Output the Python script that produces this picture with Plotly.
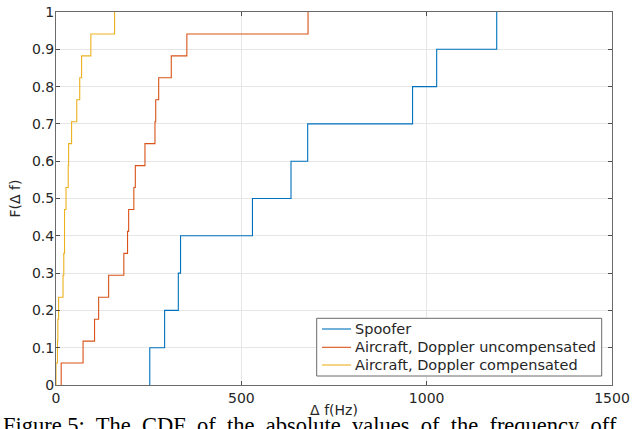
import numpy as np
import plotly.graph_objects as go

# Sample values (Hz) read from the empirical CDF steps
spoofer = [253, 293, 330, 336, 530, 634, 679, 962, 1027, 1189]
uncomp = [14, 73, 104, 115, 142, 183, 193, 196, 210, 214, 240, 267, 269, 277, 311, 353, 680]
comp = [0, 4, 5, 7, 19, 21, 23, 23, 27, 33, 34, 42, 56, 64, 69, 94, 158]

names = ["Spoofer", "Aircraft, Doppler uncompensated", "Aircraft, Doppler compensated"]
colors = ["#0072BD", "#D95319", "#EDB120"]
x_ticks = [0, 500, 1000, 1500]
y_ticks = [round(0.1 * i, 1) for i in range(11)]

def ecdf(vals):
    s = np.sort(np.asarray(vals, dtype=float))
    n = len(s)
    x = np.concatenate([[s[0]], s])
    y = np.concatenate([[0.0], np.arange(1, n + 1) / n])
    return x, y

fig = go.Figure()
for vals, name, c in zip([spoofer, uncomp, comp], names, colors):
    x, y = ecdf(vals)
    fig.add_trace(go.Scatter(x=x, y=y, mode="lines", name=name, showlegend=False,
                             line=dict(color=c, width=1.1, shape="hv")))

txt = "#262626"
axis_common = dict(showline=True, linecolor="#6b6b6b", linewidth=1, mirror="ticks",
                   ticks="inside", ticklen=4, tickcolor="#4d4d4d", automargin=False,
                   showgrid=True, gridcolor="#e6e6e6", gridwidth=1, zeroline=False,
                   tickfont=dict(family="DejaVu Sans", size=14, color=txt))

W, H = 632, 429
ML, MR, MT, MB = 56, 20, 12, 44
PW, PH = W - ML - MR, H - MT - MB

def px(xp):  # page pixel -> paper x
    return (xp - ML) / PW

def py(yp):  # page pixel -> paper y
    return (H - MB - yp) / PH

fig.update_layout(
    width=W, height=H,
    margin=dict(l=ML, r=MR, t=MT, b=MB, autoexpand=False),
    paper_bgcolor="white", plot_bgcolor="white",
    font=dict(family="DejaVu Sans", size=14, color=txt),
    xaxis=dict(range=[0, 1500], tickvals=x_ticks, ticktext=[str(v) for v in x_ticks],
               title=dict(text="Δ f(Hz)", standoff=0, font=dict(size=14, color=txt)),
               **axis_common),
    yaxis=dict(range=[0, 1], tickvals=y_ticks, ticktext=[("%g" % v) for v in y_ticks],
               ticklabelstandoff=-2,
               title=dict(text="F(Δ f)", standoff=8, font=dict(size=14, color=txt)),
               **axis_common),
    showlegend=False,
)

# legend box drawn in the plot's lower right
fig.add_shape(type="rect", xref="paper", yref="paper",
              x0=px(316.7), x1=px(601.7), y0=py(376), y1=py(318.3),
              line=dict(color="#6b6b6b", width=1), fillcolor="white", layer="above")
row_y = [329, 347.3, 365]
for name, c, ry in zip(names, colors, row_y):
    fig.add_shape(type="line", xref="paper", yref="paper",
                  x0=px(322), x1=px(351), y0=py(ry), y1=py(ry),
                  line=dict(color=c, width=1.1), layer="above")
    fig.add_annotation(text=name, xref="paper", yref="paper", x=px(352.5), y=py(ry),
                       xanchor="left", yanchor="middle", showarrow=False,
                       font=dict(family="DejaVu Sans", size=14.5, color=txt))

fig.add_annotation(text="Figure 5:  The  CDF  of  the  absolute  values  of  the  frequency  off",
                   xref="paper", yref="paper", x=px(1), y=py(411),
                   xanchor="left", yanchor="top", showarrow=False,
                   font=dict(family="Liberation Serif", size=22.5, color="black"))

fig.write_html("out.html", config={"displayModeBar": False},
               post_script="document.body.style.margin='0px';")
